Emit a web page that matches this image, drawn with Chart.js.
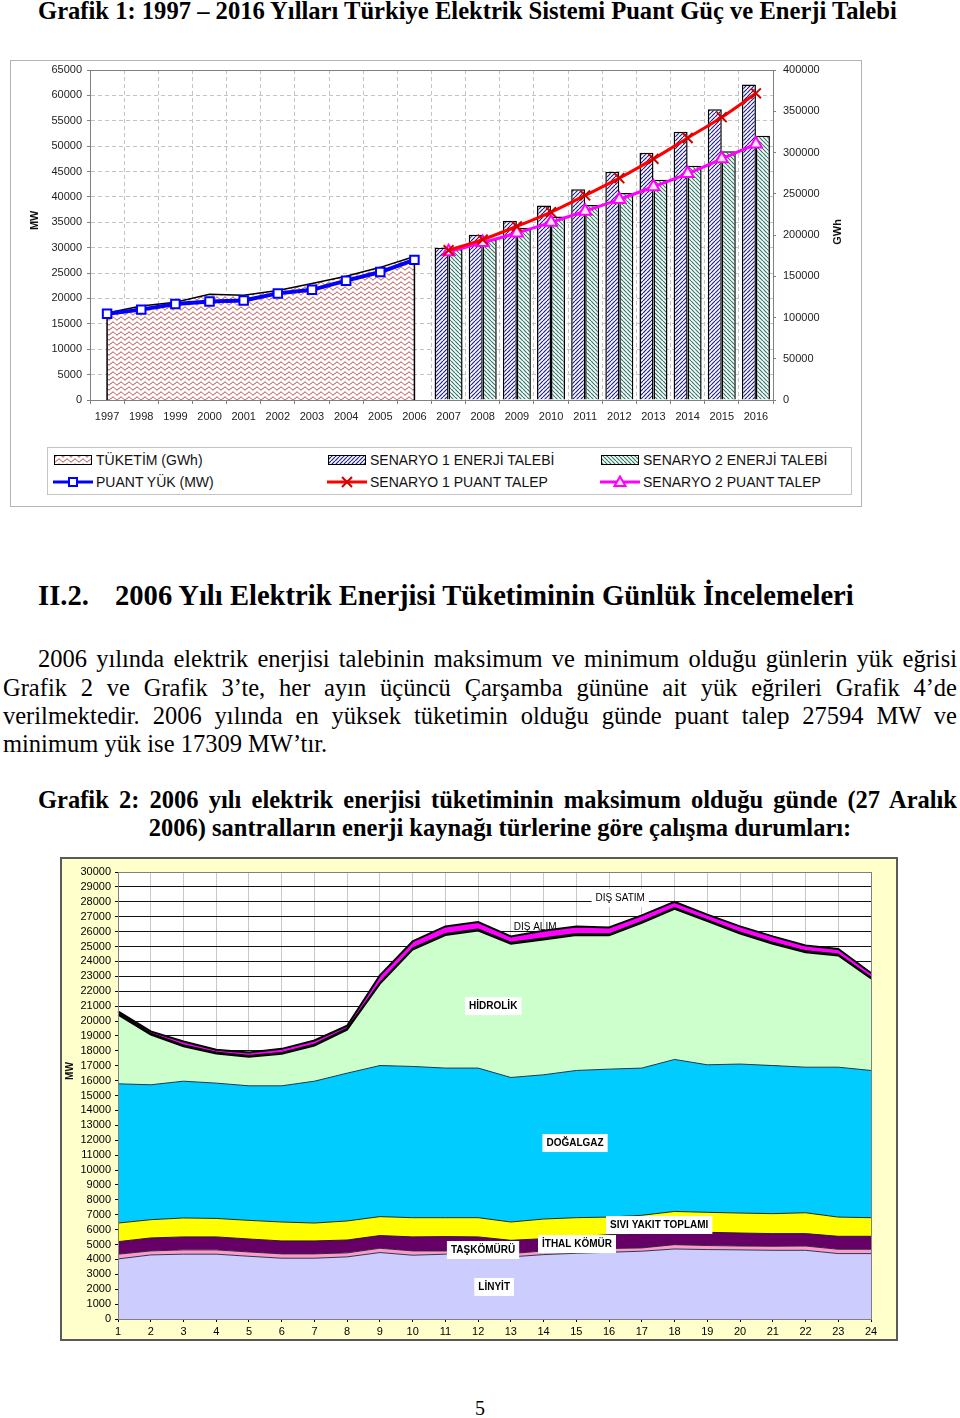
<!DOCTYPE html>
<html>
<head>
<meta charset="utf-8">
<script src="https://cdn.jsdelivr.net/npm/chart.js@4.4.0/dist/chart.umd.min.js"></script>
<style>
body{margin:0;background:#fff;width:960px;height:1418px;position:relative;overflow:hidden;font-family:"Liberation Serif","Times New Roman",serif;color:#000}
.abs{position:absolute;white-space:nowrap}
.just{text-align:justify;text-align-last:justify}
#kutu1{position:absolute;left:10px;top:60px;width:852px;height:447px;border:1px solid #b4b4b4;box-sizing:border-box}
#grafik1{position:absolute;left:0;top:0}
#lejant{position:absolute;left:36px;top:386px;width:805px;height:48px;border:1px solid #c4c4c4;box-sizing:border-box;font-family:"Liberation Sans",Arial,sans-serif;font-size:14px;color:#111}
#lejant canvas{position:absolute}
#lejant span{position:absolute;line-height:16px}
#kutu2{position:absolute;left:60px;top:857px;width:838px;height:484px;border:2px solid #5a5a5a;box-sizing:border-box;background:#ffffcc}
#grafik2{position:absolute;left:0;top:0}
</style>
</head>
<body>

<div class="abs" style="left:38px;top:-3px;font-size:24.6px;line-height:28px;font-weight:bold">Grafik 1: 1997 – 2016 Yılları Türkiye Elektrik Sistemi Puant Güç ve Enerji Talebi</div>

<div id="kutu1">
  <canvas id="grafik1" width="850" height="374"></canvas>
  <div id="lejant">
    <canvas id="lj0" width="40" height="14" style="left:5px;top:5px"></canvas><span style="left:48px;top:4px">TÜKETİM (GWh)</span>
    <canvas id="lj1" width="40" height="14" style="left:279px;top:5px"></canvas><span style="left:322px;top:4px">SENARYO 1 ENERJİ TALEBİ</span>
    <canvas id="lj2" width="40" height="14" style="left:552px;top:5px"></canvas><span style="left:595px;top:4px">SENARYO 2 ENERJİ TALEBİ</span>
    <canvas id="lj3" width="40" height="14" style="left:5px;top:27px"></canvas><span style="left:48px;top:26px">PUANT YÜK (MW)</span>
    <canvas id="lj4" width="40" height="14" style="left:279px;top:27px"></canvas><span style="left:322px;top:26px">SENARYO 1 PUANT TALEP</span>
    <canvas id="lj5" width="40" height="14" style="left:552px;top:27px"></canvas><span style="left:595px;top:26px">SENARYO 2 PUANT TALEP</span>
  </div>
</div>

<div class="abs" style="left:38px;top:579px;font-size:28.6px;line-height:34px;font-weight:bold">II.2.<span style="position:absolute;left:77px">2006 Yılı Elektrik Enerjisi Tüketiminin Günlük İncelemeleri</span></div>

<div class="abs just" style="left:38px;top:645px;width:919px;font-size:24.5px;line-height:28px">2006 yılında elektrik enerjisi talebinin maksimum ve minimum olduğu günlerin yük eğrisi</div>
<div class="abs just" style="left:3px;top:674px;width:954px;font-size:24.5px;line-height:28px">Grafik 2 ve Grafik 3’te, her ayın üçüncü Çarşamba gününe ait yük eğrileri Grafik 4’de</div>
<div class="abs just" style="left:3px;top:702px;width:954px;font-size:24.5px;line-height:28px">verilmektedir. 2006 yılında en yüksek tüketimin olduğu günde puant talep 27594 MW ve</div>
<div class="abs" style="left:3px;top:730px;font-size:24.5px;line-height:28px">minimum yük ise 17309 MW’tır.</div>

<div class="abs just" style="left:38px;top:786px;width:919px;font-size:24.5px;line-height:28px;font-weight:bold">Grafik 2: 2006 yılı elektrik enerjisi tüketiminin maksimum olduğu günde (27 Aralık</div>
<div class="abs" style="left:0;top:814px;width:1000px;text-align:center;font-size:24.5px;line-height:28px;font-weight:bold">2006) santralların enerji kaynağı türlerine göre çalışma durumları:</div>

<div id="kutu2">
  <canvas id="grafik2" width="834" height="480"></canvas>
</div>

<div class="abs" style="left:0;top:1395px;width:960px;text-align:center;font-size:20px;line-height:26px">5</div>

<script>
// Grafik 1 verileri
const yillar = ['1997', '1998', '1999', '2000', '2001', '2002', '2003', '2004', '2005', '2006',
  '2007', '2008', '2009', '2010', '2011', '2012', '2013', '2014', '2015', '2016'];
const _ = null;
const tuketim = [105500, 114000, 118500, 128300, 126900, 132600, 141200, 150000, 160800, 174000, _, _, _, _, _, _, _, _, _, _];
const puantYuk = [17000, 17800, 18900, 19400, 19600, 21000, 21700, 23500, 25200, 27600, _, _, _, _, _, _, _, _, _, _];
const s1Enerji = [_, _, _, _, _, _, _, _, _, _, 184500, 200200, 217200, 235700, 255400, 276800, 299700, 325200, 352500, 382400];
const s2Enerji = [_, _, _, _, _, _, _, _, _, _, 184500, 194600, 208700, 222400, 236500, 251000, 267100, 284000, 301400, 320300];
const s1Puant = [_, _, _, _, _, _, _, _, _, _, 29500, 31600, 34200, 37000, 40300, 43700, 47500, 51600, 55700, 60400];
const s2Puant = [_, _, _, _, _, _, _, _, _, _, 29200, 31000, 32900, 35000, 37200, 39500, 42000, 44600, 47500, 50400];

// Grafik 2 verileri (27 Aralık 2006, saatlik MW)
const saatler = ['1', '2', '3', '4', '5', '6', '7', '8', '9', '10', '11', '12',
  '13', '14', '15', '16', '17', '18', '19', '20', '21', '22', '23', '24'];
const linyit = [4030, 4300, 4350, 4350, 4210, 4080, 4080, 4170, 4460, 4280, 4350, 4350, 4170, 4320, 4410, 4480, 4550, 4700, 4660, 4640, 4610, 4610, 4390, 4390];
const taskomuru = [320, 270, 290, 290, 290, 290, 290, 270, 290, 290, 220, 220, 220, 250, 250, 250, 220, 290, 270, 260, 270, 290, 290, 290];
const ithalKomur = [840, 870, 870, 870, 870, 870, 870, 860, 850, 940, 960, 940, 890, 820, 850, 930, 960, 850, 890, 870, 850, 830, 870, 870];
const siviYakit = [1250, 1225, 1270, 1240, 1250, 1270, 1200, 1280, 1270, 1290, 1270, 1290, 1230, 1320, 1290, 1180, 1230, 1380, 1340, 1340, 1340, 1400, 1290, 1250];
const dogalgaz = [9345, 9055, 9180, 9080, 9030, 9140, 9520, 9920, 10140, 10150, 10040, 10040, 9700, 9680, 9880, 9930, 9880, 10200, 9900, 10000, 9940, 9770, 10060, 9880];
const hidrolik = [4635, 3350, 2330, 1970, 1930, 2130, 2380, 2910, 5470, 7830, 8910, 9220, 8960, 9070, 9070, 8960, 9730, 10090, 9630, 8750, 8160, 7700, 7480, 6160];
const disSatim = [150, 120, 110, 110, 110, 110, 110, 120, 130, 130, 120, 120, 120, 120, 120, 120, 120, 110, 110, 110, 120, 120, 120, 120];
const disAlim = [70, 110, 230, 160, 200, 240, 240, 150, 450, 430, 480, 460, 390, 480, 480, 430, 400, 370, 340, 380, 390, 350, 330, 260];

const SANS = '"Liberation Sans", Arial, sans-serif';
const duz = v => String(v);  // binlik ayırıcı olmadan

function desen(ctx, w, h, ciz) {
  const c = document.createElement('canvas');
  c.width = w;
  c.height = h;
  const g = c.getContext('2d');
  g.fillStyle = '#fff';
  g.fillRect(0, 0, w, h);
  ciz(g, w, h);
  return ctx.createPattern(c, 'repeat');
}
function dalgaCiz(g, w, h) {
  g.strokeStyle = '#b02828';
  g.lineWidth = 1;
  g.beginPath();
  for (let x = 0; x <= w; x += 0.5) {
    const y = h / 2 + 1.4 * Math.sin(x / w * 2 * Math.PI);
    if (x === 0) g.moveTo(x, y); else g.lineTo(x, y);
  }
  g.stroke();
}
function egikCiz(renk, ters) {
  return function (g, w, h) {
    g.strokeStyle = renk;
    g.lineWidth = 1.2;
    g.beginPath();
    for (let k = -1; k <= 1; k++) {
      if (ters) { g.moveTo(k * w, 0); g.lineTo(k * w + w, h); }
      else { g.moveTo(k * w, h); g.lineTo(k * w + w, 0); }
    }
    g.stroke();
  };
}
// eksen ölçeklerinin kendi iç boşluklarını sıfırla, yerleşimi padding belirlesin
function sabitle(boyut, deger) {
  return function (s) {
    s[boyut] = deger;
    s.paddingTop = 0; s.paddingBottom = 0; s.paddingLeft = 0; s.paddingRight = 0;
  };
}

const cerceve = {
  id: 'cerceve',
  afterDraw(chart) {
    const a = chart.chartArea, c = chart.ctx;
    c.save();
    c.strokeStyle = '#808080';
    c.lineWidth = 1;
    c.strokeRect(Math.round(a.left) + 0.5, Math.round(a.top) + 0.5, Math.round(a.right - a.left), Math.round(a.bottom - a.top));
    c.restore();
  }
};
// eksen başlıkları: yatay konum sabit, dikey konum ölçekteki bir değerden
const eksenBasligi = {
  id: 'eksenBasligi',
  afterDraw(chart, args, opts) {
    const c = chart.ctx;
    c.save();
    c.fillStyle = '#111';
    c.textAlign = 'center';
    c.textBaseline = 'middle';
    (opts.liste || []).forEach(b => {
      c.font = 'bold ' + b.boyut + 'px ' + SANS;
      c.save();
      c.translate(b.x, chart.scales[b.eksen].getPixelForValue(b.deger));
      c.rotate(-Math.PI / 2);
      c.fillText(b.metin, 0, 0);
      c.restore();
    });
    c.restore();
  }
};

// ---------- Grafik 1 ----------
const ctx1 = document.getElementById('grafik1').getContext('2d');
const dalga = desen(ctx1, 8, 5, dalgaCiz);
const tarama1 = desen(ctx1, 4, 4, egikCiz('#1e1e80', false));
const tarama2 = desen(ctx1, 4, 4, egikCiz('#2a7a66', true));

const kenarlar = {
  id: 'kenarlar',
  afterDatasetDraw(chart, args) {
    if (chart.data.datasets[args.index].label !== 'TÜKETİM (GWh)') return;
    const pts = args.meta.data.filter(p => !p.skip);
    const alt = chart.scales.y2.getPixelForValue(0);
    const c = chart.ctx;
    c.save();
    c.strokeStyle = '#000';
    c.lineWidth = 1.5;
    [pts[0], pts[pts.length - 1]].forEach(p => {
      c.beginPath();
      c.moveTo(p.x, p.y);
      c.lineTo(p.x, alt);
      c.stroke();
    });
    c.restore();
  }
};

const tik = { font: { family: SANS, size: 11 }, color: '#222' };

new Chart(ctx1, {
  data: {
    labels: yillar,
    datasets: [
      { type: 'line', label: 'PUANT YÜK (MW)', data: puantYuk, yAxisID: 'y', order: 0,
        borderColor: '#0000ff', borderWidth: 4, tension: 0,
        pointStyle: 'rect', pointRadius: 6, pointBackgroundColor: '#fff', pointBorderColor: '#0000ff', pointBorderWidth: 2 },
      { type: 'line', label: 'SENARYO 1 PUANT TALEP', data: s1Puant, yAxisID: 'y', order: 0,
        borderColor: '#ff0000', borderWidth: 3, tension: 0.3,
        pointStyle: 'crossRot', pointRadius: 7, pointBorderColor: '#d00000', pointBorderWidth: 2 },
      { type: 'line', label: 'SENARYO 2 PUANT TALEP', data: s2Puant, yAxisID: 'y', order: 0,
        borderColor: '#ff00ff', borderWidth: 3, tension: 0.3,
        pointStyle: 'triangle', pointRadius: 7, pointBackgroundColor: '#ffe4ff', pointBorderColor: '#ff00ff', pointBorderWidth: 2 },
      { type: 'bar', label: 'SENARYO 1 ENERJİ TALEBİ', data: s1Enerji, yAxisID: 'y2', order: 1,
        backgroundColor: tarama1, borderColor: '#000', borderWidth: 1.5,
        categoryPercentage: 0.82, barPercentage: 1 },
      { type: 'bar', label: 'SENARYO 2 ENERJİ TALEBİ', data: s2Enerji, yAxisID: 'y2', order: 1,
        backgroundColor: tarama2, borderColor: '#000', borderWidth: 1.5,
        categoryPercentage: 0.82, barPercentage: 1 },
      { type: 'line', label: 'TÜKETİM (GWh)', data: tuketim, yAxisID: 'y2', order: 2,
        fill: 'origin', backgroundColor: dalga, borderColor: '#000', borderWidth: 1.5, pointRadius: 0, tension: 0 }
    ]
  },
  options: {
    responsive: false,
    animation: false,
    devicePixelRatio: 1,
    layout: { padding: { top: 9 } },
    plugins: {
      legend: { display: false },
      tooltip: { enabled: false },
      eksenBasligi: { liste: [
        { metin: 'MW', eksen: 'y', deger: 35400, x: 24, boyut: 11 },
        { metin: 'GWh', eksen: 'y', deger: 33100, x: 827, boyut: 11 }
      ] }
    },
    scales: {
      x: {
        offset: true,
        grid: { offset: true, color: '#c4c4c4', tickLength: 4, tickColor: '#808080', tickBorderDash: [] },
        border: { dash: [4, 3], color: '#808080' },
        ticks: Object.assign({ padding: 6, maxRotation: 0, autoSkip: false }, tik),
        afterFit: sabitle('height', 35)
      },
      y: {
        position: 'left', min: 0, max: 65000,
        grid: { color: '#c4c4c4', tickLength: 3, tickColor: '#808080', tickBorderDash: [] },
        border: { dash: [4, 3], color: '#808080' },
        ticks: Object.assign({ stepSize: 5000, padding: 5, callback: duz }, tik),
        afterFit: sabitle('width', 79)
      },
      y2: {
        position: 'right', min: 0, max: 400000,
        grid: { drawOnChartArea: false, tickLength: 3, tickColor: '#808080' },
        border: { color: '#808080' },
        ticks: Object.assign({ stepSize: 50000, padding: 7, callback: duz }, tik),
        afterFit: sabitle('width', 88)
      }
    }
  },
  plugins: [cerceve, kenarlar, eksenBasligi]
});

// Lejant örnekleri
function lejantKutu(id, w, h, f) {
  const c = document.getElementById(id).getContext('2d');
  c.fillStyle = desen(c, w, h, f);
  c.fillRect(1, 2, 38, 10);
  c.strokeStyle = '#000';
  c.lineWidth = 1;
  c.strokeRect(1.5, 2.5, 37, 9);
}
function lejantCizgi(id, renk, isaret) {
  const c = document.getElementById(id).getContext('2d');
  c.strokeStyle = renk;
  c.lineWidth = 3;
  c.beginPath(); c.moveTo(0, 7); c.lineTo(40, 7); c.stroke();
  c.lineWidth = 2;
  if (isaret === 'kare') {
    c.fillStyle = '#fff';
    c.fillRect(16, 3, 8, 8);
    c.strokeRect(16, 3, 8, 8);
  } else if (isaret === 'carpi') {
    c.strokeStyle = '#d00000';
    c.beginPath(); c.moveTo(15, 2); c.lineTo(25, 12); c.moveTo(25, 2); c.lineTo(15, 12); c.stroke();
  } else {
    c.fillStyle = '#ffe4ff';
    c.beginPath(); c.moveTo(20, 1.5); c.lineTo(25.5, 11); c.lineTo(14.5, 11); c.closePath(); c.fill(); c.stroke();
  }
}
lejantKutu('lj0', 8, 5, dalgaCiz);
lejantKutu('lj1', 4, 4, egikCiz('#1e1e80', false));
lejantKutu('lj2', 4, 4, egikCiz('#2a7a66', true));
lejantCizgi('lj3', '#0000ff', 'kare');
lejantCizgi('lj4', '#ff0000', 'carpi');
lejantCizgi('lj5', '#ff00ff', 'ucgen');

// ---------- Grafik 2 ----------
const etiketler = [
  { metin: 'HİDROLİK', saat: 12.46, mw: 21000, kalin: true, kutu: true },
  { metin: 'DIŞ ALIM', saat: 13.74, mw: 26300, kalin: false, kutu: false },
  { metin: 'DIŞ SATIM', saat: 16.34, mw: 28250, kalin: false, kutu: true },
  { metin: 'DOĞALGAZ', saat: 14.96, mw: 11810, kalin: true, kutu: true },
  { metin: 'SIVI YAKIT TOPLAMI', saat: 17.53, mw: 6310, kalin: true, kutu: true },
  { metin: 'İTHAL KÖMÜR', saat: 15.02, mw: 5030, kalin: true, kutu: true },
  { metin: 'TAŞKÖMÜRÜ', saat: 12.15, mw: 4630, kalin: true, kutu: true },
  { metin: 'LİNYİT', saat: 12.49, mw: 2150, kalin: true, kutu: true }
];

const arkaPlan = {
  id: 'arkaPlan',
  beforeDraw(chart) {
    const a = chart.chartArea, c = chart.ctx;
    c.save();
    c.fillStyle = '#fff';
    c.fillRect(a.left, a.top, a.right - a.left, a.bottom - a.top);
    c.restore();
  }
};
const yazilar = {
  id: 'yazilar',
  afterDatasetsDraw(chart) {
    const c = chart.ctx, xs = chart.scales.x, ys = chart.scales.y;
    c.save();
    c.textBaseline = 'middle';
    c.textAlign = 'center';
    etiketler.forEach(e => {
      const x = xs.getPixelForValue(e.saat - 1);
      const y = ys.getPixelForValue(e.mw);
      c.font = (e.kalin ? 'bold ' : '') + '10px ' + SANS;
      const w = c.measureText(e.metin).width;
      if (e.kutu) {
        c.fillStyle = '#fff';
        c.fillRect(x - w / 2 - 4, y - 9, w + 8, 18);
      }
      c.fillStyle = '#000';
      c.fillText(e.metin, x, y);
    });
    c.restore();
  }
};

const katman = (label, data, renk, cizgi, kalinlik, ilk) => ({
  label, data, backgroundColor: renk, borderColor: cizgi, borderWidth: kalinlik,
  fill: ilk ? 'origin' : '-1', pointRadius: 0, tension: 0
});

new Chart(document.getElementById('grafik2').getContext('2d'), {
  type: 'line',
  data: {
    labels: saatler,
    datasets: [
      katman('LİNYİT', linyit, '#ccccff', '#2a3a4a', 1, true),
      katman('TAŞKÖMÜRÜ', taskomuru, '#ff99cc', '#2a2a3a', 1),
      katman('İTHAL KÖMÜR', ithalKomur, '#660066', '#2a1a2a', 1),
      katman('SIVI YAKIT TOPLAMI', siviYakit, '#ffff00', '#1a2a2a', 1),
      katman('DOĞALGAZ', dogalgaz, '#00ccff', '#1a3a4a', 1),
      katman('HİDROLİK', hidrolik, '#ccffcc', '#000', 1.5),
      katman('DIŞ SATIM', disSatim, '#000', '#000', 1),
      katman('DIŞ ALIM', disAlim, '#ff00ff', '#000', 2)
    ]
  },
  options: {
    responsive: false,
    animation: false,
    devicePixelRatio: 1,
    layout: { padding: { top: 13, right: 25 } },
    plugins: {
      legend: { display: false },
      tooltip: { enabled: false },
      eksenBasligi: { liste: [{ metin: 'MW', eksen: 'y', deger: 16640, x: 8, boyut: 10 }] }
    },
    scales: {
      x: {
        grid: { color: '#c8c8c8', tickLength: 3, tickColor: '#000' },
        border: { color: '#000' },
        ticks: { font: { family: SANS, size: 11 }, color: '#000', padding: 3, maxRotation: 0, autoSkip: false },
        afterFit: sabitle('height', 20)
      },
      y: {
        stacked: true, min: 0, max: 30000,
        grid: { color: '#111', tickLength: 3, tickColor: '#000' },
        border: { color: '#000' },
        ticks: { stepSize: 1000, autoSkip: false, font: { family: SANS, size: 11 }, color: '#000', padding: 4, callback: duz },
        afterFit: sabitle('width', 56)
      }
    }
  },
  plugins: [arkaPlan, yazilar, cerceve, eksenBasligi]
});
</script>
</body>
</html>
